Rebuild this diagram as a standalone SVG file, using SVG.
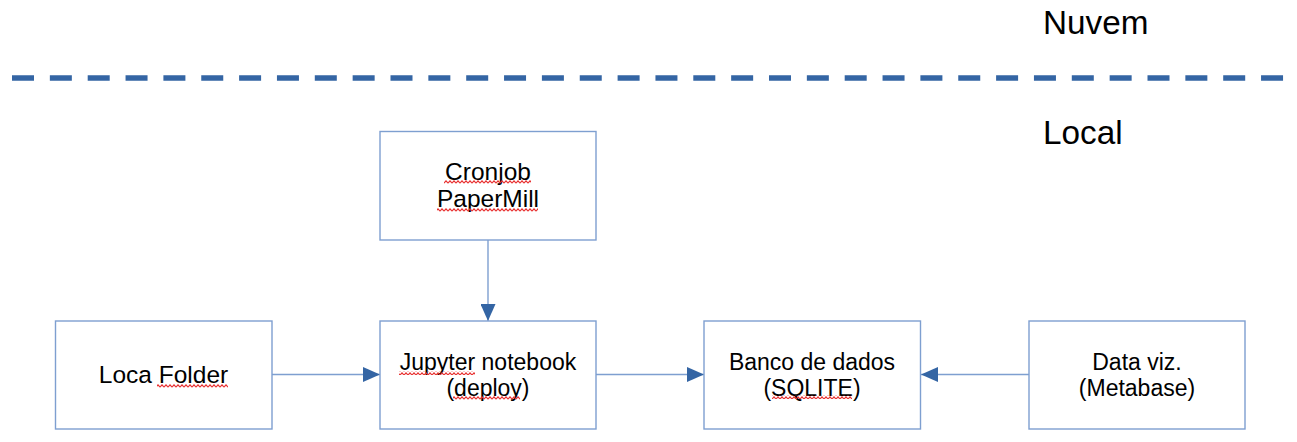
<svg xmlns="http://www.w3.org/2000/svg" width="1297" height="442" viewBox="0 0 1297 442">
<style>
.box{fill:#ffffff;stroke:#7e9fd0;stroke-width:1.4}
.lbl{font-family:"Liberation Sans",Arial,sans-serif;font-size:23px;fill:#000;text-anchor:middle}
.lg{font-size:24.5px}
.big{font-family:"Liberation Sans",Arial,sans-serif;font-size:33.3px;fill:#000}
.conn{stroke:#7e9fd0;stroke-width:1.4;fill:none}
.wave{fill:url(#wv)}
</style>
<defs>
<pattern id="wv" patternUnits="userSpaceOnUse" width="4" height="4">
<path d="M0,3.2 L2,0.8 L4,3.2" fill="none" stroke="#e83030" stroke-width="1.1"/>
</pattern>
<marker id="ah" markerWidth="17" markerHeight="15" refX="17" refY="7.5" orient="auto" markerUnits="userSpaceOnUse">
<path d="M0,0 L17,7.5 L0,15 Z" fill="#3465a4"/>
</marker>
</defs>
<rect width="1297" height="442" fill="#ffffff"/>
<g id="divider">
<line x1="12" y1="78" x2="1284" y2="78" stroke="#3465a4" stroke-width="5.5" stroke-dasharray="22 15.85"/>
</g>
<g id="nuvem"><text class="big" x="1043" y="34">Nuvem</text></g>
<g id="local"><text class="big" x="1043" y="144">Local</text></g>
<g id="connectors">
<line class="conn" x1="488" y1="240" x2="488" y2="321" marker-end="url(#ah)"/>
<line class="conn" x1="272" y1="374.5" x2="380" y2="374.5" marker-end="url(#ah)"/>
<line class="conn" x1="596" y1="374.5" x2="704" y2="374.5" marker-end="url(#ah)"/>
<line class="conn" x1="1029" y1="374.5" x2="921" y2="374.5" marker-end="url(#ah)"/>
</g>
<g id="cronjob">
<rect class="box" x="380" y="131.5" width="216" height="108.5"/>
<text class="lbl lg" x="488" y="180">Cronjob</text>
<text class="lbl lg" x="488" y="207">PaperMill</text>
<rect class="wave" x="444" y="180" width="87" height="4"/>
<rect class="wave" x="437" y="208" width="101" height="4"/>
</g>
<g id="folder">
<rect class="box" x="55.5" y="321" width="216.5" height="108"/>
<text class="lbl lg" x="163.5" y="383">Loca Folder</text>
<rect class="wave" x="157" y="384" width="71" height="4"/>
</g>
<g id="jupyter">
<rect class="box" x="380" y="321" width="216" height="108"/>
<text class="lbl" x="488" y="369.5">Jupyter notebook</text>
<text class="lbl" x="488" y="396">(deploy)</text>
<rect class="wave" x="399" y="371" width="76" height="4"/>
<rect class="wave" x="453" y="396" width="67" height="4"/>
</g>
<g id="banco">
<rect class="box" x="704" y="321" width="216.5" height="108"/>
<text class="lbl" x="812" y="370">Banco de dados</text>
<text class="lbl" x="812" y="396">(SQLITE)</text>
<rect class="wave" x="772" y="395" width="80" height="4"/>
</g>
<g id="dataviz">
<rect class="box" x="1029" y="321" width="216" height="108"/>
<text class="lbl" x="1137" y="370">Data viz.</text>
<text class="lbl" x="1137" y="395.5">(Metabase)</text>
</g>
</svg>
